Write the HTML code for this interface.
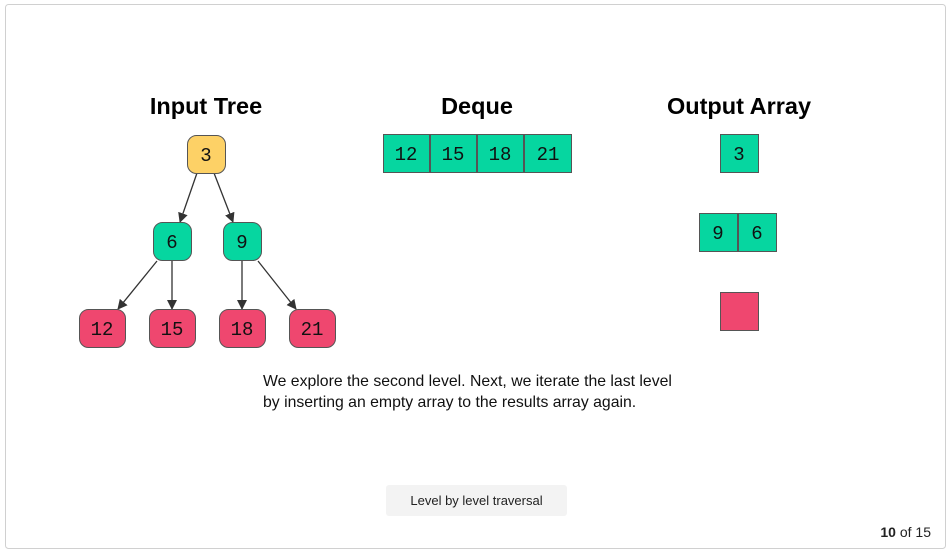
<!DOCTYPE html>
<html><head><style>
body{margin:0;background:#fff;width:952px;height:552px;overflow:hidden;font-family:"Liberation Sans",sans-serif}
</style></head><body>
<svg width="952" height="552" xmlns="http://www.w3.org/2000/svg">
<defs><marker id="a" markerWidth="10" markerHeight="10" refX="9" refY="5" orient="auto" markerUnits="userSpaceOnUse"><path d="M0,0 L10,5 L0,10 z" fill="#333"/></marker></defs>
<rect x="5.5" y="4.5" width="940" height="544" rx="3" fill="#fff" stroke="#d0d0d0"/>
<g font-family="Liberation Sans" font-weight="bold" font-size="23.5" text-anchor="middle" fill="#000">
<text x="206" y="114">Input Tree</text><text x="477" y="114">Deque</text><text x="739" y="114">Output Array</text></g>
<g stroke="#333" stroke-width="1.3" marker-end="url(#a)">
<line x1="197" y1="173" x2="180" y2="222"/><line x1="214" y1="173" x2="233" y2="222"/>
<line x1="157" y1="261" x2="118" y2="309"/><line x1="172" y1="261" x2="172" y2="309"/>
<line x1="242" y1="261" x2="242" y2="309"/><line x1="258" y1="261" x2="296" y2="309"/></g>
<g stroke="#555" stroke-width="1">
<rect x="187.5" y="135.5" width="38" height="38" rx="9" fill="#fdd166"/>
<rect x="153.5" y="222.5" width="38" height="38" rx="9" fill="#06d6a0"/>
<rect x="223.5" y="222.5" width="38" height="38" rx="9" fill="#06d6a0"/>
<rect x="79.5" y="309.5" width="46" height="38" rx="9" fill="#ef476f"/>
<rect x="149.5" y="309.5" width="46" height="38" rx="9" fill="#ef476f"/>
<rect x="219.5" y="309.5" width="46" height="38" rx="9" fill="#ef476f"/>
<rect x="289.5" y="309.5" width="46" height="38" rx="9" fill="#ef476f"/>
<rect x="383.5" y="134.5" width="46" height="38" fill="#06d6a0"/>
<rect x="430.5" y="134.5" width="46" height="38" fill="#06d6a0"/>
<rect x="477.5" y="134.5" width="46" height="38" fill="#06d6a0"/>
<rect x="524.5" y="134.5" width="47" height="38" fill="#06d6a0"/>
<rect x="720.5" y="134.5" width="38" height="38" fill="#06d6a0"/>
<rect x="699.5" y="213.5" width="38" height="38" fill="#06d6a0"/>
<rect x="738.5" y="213.5" width="38" height="38" fill="#06d6a0"/>
<rect x="720.5" y="292.5" width="38" height="38" fill="#ef476f"/></g>
<g font-family="Liberation Mono" font-size="19" text-anchor="middle" fill="#111">
<text x="206" y="161">3</text><text x="172" y="248">6</text><text x="242" y="248">9</text>
<text x="102" y="335">12</text><text x="172" y="335">15</text><text x="242" y="335">18</text><text x="312" y="335">21</text>
<text x="406" y="160">12</text><text x="453" y="160">15</text><text x="500" y="160">18</text><text x="548" y="160">21</text>
<text x="739" y="160">3</text><text x="718" y="239">9</text><text x="757" y="239">6</text></g>
<g font-family="Liberation Sans" font-size="15.8" fill="#111">
<text x="263" y="386">We explore the second level. Next, we iterate the last level</text>
<text x="263" y="407">by inserting an empty array to the results array again.</text></g>
<rect x="386" y="485" width="181" height="31" rx="3" fill="#f3f3f3"/>
<text x="476.5" y="505" font-size="13" text-anchor="middle" fill="#222">Level by level traversal</text>
<text x="931" y="537" font-size="14" text-anchor="end" fill="#222"><tspan font-weight="bold">10</tspan> of 15</text>
</svg>
</body></html>
